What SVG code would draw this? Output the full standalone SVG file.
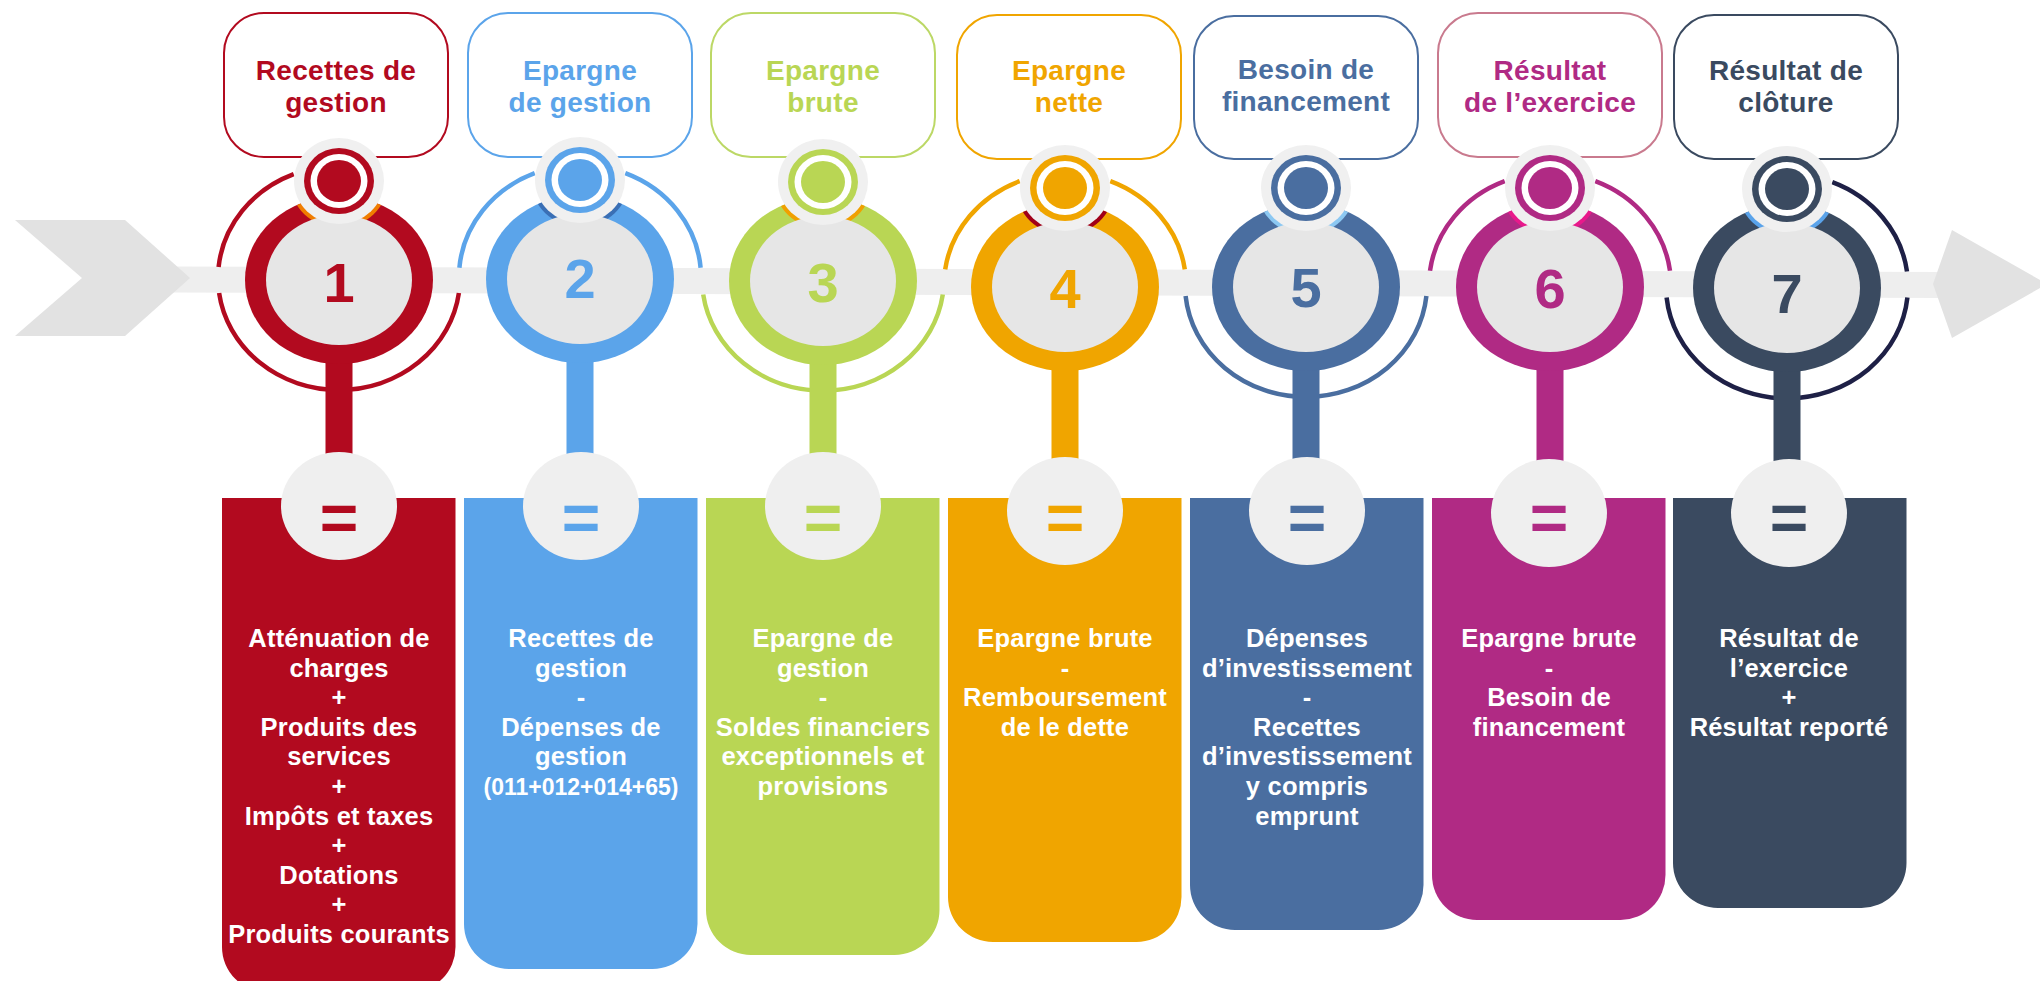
<svg xmlns="http://www.w3.org/2000/svg" width="2040" height="981" viewBox="0 0 2040 981">
<style>
  .f{font-family:"Liberation Sans",Arial,sans-serif;font-weight:700;text-anchor:middle}
  .top{font-size:28px;letter-spacing:0.3px}
  .body{font-size:25.5px;fill:#ffffff;letter-spacing:0.2px}
  .small{font-size:23px;letter-spacing:0}
  .num{font-size:56px}
  .eq{font-size:66px}
  .hdr{fill:#ffffff;stroke-width:2}
  .arc{fill:none;stroke-width:4.5}
  .disk{fill:#e6e6e6}
  .halo{fill:#f0f0f0}
  .eqc{fill:#efefef}
</style>
<defs>
  <clipPath id="ringClip"><ellipse cx="0" cy="0" rx="94" ry="84"/></clipPath>
</defs>

<g id="timeline">
  <polygon points="170,266.5 1945,272 1945,298 170,292.5" fill="#eeeeee"/>
  <polygon points="15,220 125,220 190,278 125,336 15,336 82,278" fill="#e2e2e2"/>
  <polygon points="1933,284 1952,230 2047,284 1952,338" fill="#e2e2e2"/>
</g>

<g id="step-1">
  <rect class="hdr" x="224" y="13" width="224" height="144" rx="40" stroke="#b20a1f"/>
  <text class="f top" fill="#b20a1f"><tspan x="336" y="80">Recettes de</tspan><tspan x="336" y="112">gestion</tspan></text>
  <path class="arc" stroke="#b20a1f" d="M293.7 174.2A121 112 0 0 0 218.6 267.1M219.1 293A121 112 0 0 0 458.9 293"/>
  <rect x="325.5" y="340" width="27" height="140" fill="#b20a1f"/>
  <g transform="translate(339,280)">
    <ellipse rx="94" ry="84" fill="#b20a1f"/>
    <ellipse cy="-99" rx="49" ry="47" fill="#f07d00" clip-path="url(#ringClip)"/>
    <ellipse class="disk" rx="73" ry="65"/>
    <ellipse class="halo" cy="-99" rx="45" ry="43"/>
    <ellipse cy="-99" rx="35" ry="33" fill="#b20a1f"/>
    <ellipse cy="-99" rx="28.5" ry="27" fill="#ffffff"/>
    <ellipse cy="-99" rx="22" ry="21" fill="#b20a1f"/>
    <text class="f num" x="0" y="22" fill="#b20a1f">1</text>
  </g>
  <path d="M222 498H455.5V947A45 45 0 0 1 410.5 992H267A45 45 0 0 1 222 947Z" fill="#b20a1f"/>
  <ellipse class="eqc" cx="339" cy="506" rx="58" ry="54"/>
  <text class="f eq" x="339" y="541" fill="#b20a1f">=</text>
  <text class="f body" y="647"><tspan x="339">Atténuation de</tspan><tspan x="339" dy="29.6">charges</tspan><tspan x="339" dy="29.6">+</tspan><tspan x="339" dy="29.6">Produits des</tspan><tspan x="339" dy="29.6">services</tspan><tspan x="339" dy="29.6">+</tspan><tspan x="339" dy="29.6">Impôts et taxes</tspan><tspan x="339" dy="29.6">+</tspan><tspan x="339" dy="29.6">Dotations</tspan><tspan x="339" dy="29.6">+</tspan><tspan x="339" dy="29.6">Produits courants</tspan></text>
</g>

<g id="step-2">
  <rect class="hdr" x="468" y="13" width="224" height="144" rx="40" stroke="#5ba4ea"/>
  <text class="f top" fill="#5ba4ea"><tspan x="580" y="80">Epargne</tspan><tspan x="580" y="112">de gestion</tspan></text>
  <path class="arc" stroke="#5ba4ea" d="M459.4 267.75A121 112 0 0 1 534.7 173.2M625.3 173.2A121 112 0 0 1 700.6 267.75"/>
  <rect x="566.5" y="339" width="27" height="141" fill="#5ba4ea"/>
  <g transform="translate(580,279)">
    <ellipse rx="94" ry="84" fill="#5ba4ea"/>
    <ellipse cy="-99" rx="49" ry="47" fill="#3a6fb5" clip-path="url(#ringClip)"/>
    <ellipse class="disk" rx="73" ry="65"/>
    <ellipse class="halo" cy="-99" rx="45" ry="43"/>
    <ellipse cy="-99" rx="35" ry="33" fill="#5ba4ea"/>
    <ellipse cy="-99" rx="28.5" ry="27" fill="#ffffff"/>
    <ellipse cy="-99" rx="22" ry="21" fill="#5ba4ea"/>
    <text class="f num" x="0" y="19" fill="#5ba4ea">2</text>
  </g>
  <path d="M464 498H697.5V924A45 45 0 0 1 652.5 969H509A45 45 0 0 1 464 924Z" fill="#5ba4ea"/>
  <ellipse class="eqc" cx="581" cy="506" rx="58" ry="54"/>
  <text class="f eq" x="581" y="541" fill="#5ba4ea">=</text>
  <text class="f body" y="647"><tspan x="581">Recettes de</tspan><tspan x="581" dy="29.6">gestion</tspan><tspan x="581" dy="29.6">-</tspan><tspan x="581" dy="29.6">Dépenses de</tspan><tspan x="581" dy="29.6">gestion</tspan><tspan x="581" dy="29.6" class="small">(011+012+014+65)</tspan></text>
</g>

<g id="step-3">
  <rect class="hdr" x="711" y="13" width="224" height="144" rx="40" stroke="#bcd866"/>
  <text class="f top" fill="#b9d654"><tspan x="823" y="80">Epargne</tspan><tspan x="823" y="112">brute</tspan></text>
  <path class="arc" stroke="#b9d654" d="M942.8 294.5A121 112 0 0 1 703.2 294.5"/>
  <rect x="809.5" y="341" width="27" height="139" fill="#b9d654"/>
  <g transform="translate(823,281)">
    <ellipse rx="94" ry="84" fill="#b9d654"/>
    <ellipse cy="-99" rx="49" ry="47" fill="#f0a000" clip-path="url(#ringClip)"/>
    <ellipse class="disk" rx="73" ry="65"/>
    <ellipse class="halo" cy="-99" rx="45" ry="43"/>
    <ellipse cy="-99" rx="35" ry="33" fill="#b9d654"/>
    <ellipse cy="-99" rx="28.5" ry="27" fill="#ffffff"/>
    <ellipse cy="-99" rx="22" ry="21" fill="#b9d654"/>
    <text class="f num" x="0" y="21" fill="#b9d654">3</text>
  </g>
  <path d="M706 498H939.5V910A45 45 0 0 1 894.5 955H751A45 45 0 0 1 706 910Z" fill="#b9d654"/>
  <ellipse class="eqc" cx="823" cy="506" rx="58" ry="54"/>
  <text class="f eq" x="823" y="541" fill="#b9d654">=</text>
  <text class="f body" y="647"><tspan x="823">Epargne de</tspan><tspan x="823" dy="29.6">gestion</tspan><tspan x="823" dy="29.6">-</tspan><tspan x="823" dy="29.6">Soldes financiers</tspan><tspan x="823" dy="29.6">exceptionnels et</tspan><tspan x="823" dy="29.6">provisions</tspan></text>
</g>

<g id="step-4">
  <rect class="hdr" x="957" y="15" width="224" height="144" rx="40" stroke="#f0a500"/>
  <text class="f top" fill="#f0a500"><tspan x="1069" y="80">Epargne</tspan><tspan x="1069" y="112">nette</tspan></text>
  <path class="arc" stroke="#f0a500" d="M945.2 269.3A121 112 0 0 1 1019.7 181.2M1110.3 181.2A121 112 0 0 1 1184.8 269.3"/>
  <rect x="1051.5" y="347" width="27" height="133" fill="#f0a500"/>
  <g transform="translate(1065,287)">
    <ellipse rx="94" ry="84" fill="#f0a500"/>
    <ellipse cy="-99" rx="49" ry="47" fill="#a00018" clip-path="url(#ringClip)"/>
    <ellipse class="disk" rx="73" ry="65"/>
    <ellipse class="halo" cy="-99" rx="45" ry="43"/>
    <ellipse cy="-99" rx="35" ry="33" fill="#f0a500"/>
    <ellipse cy="-99" rx="28.5" ry="27" fill="#ffffff"/>
    <ellipse cy="-99" rx="22" ry="21" fill="#f0a500"/>
    <text class="f num" x="0" y="21" fill="#f0a500">4</text>
  </g>
  <path d="M948 498H1181.5V897A45 45 0 0 1 1136.5 942H993A45 45 0 0 1 948 897Z" fill="#f0a500"/>
  <ellipse class="eqc" cx="1065" cy="511" rx="58" ry="54"/>
  <text class="f eq" x="1065" y="541" fill="#f0a500">=</text>
  <text class="f body" y="647"><tspan x="1065">Epargne brute</tspan><tspan x="1065" dy="29.6">-</tspan><tspan x="1065" dy="29.6">Remboursement</tspan><tspan x="1065" dy="29.6">de le dette</tspan></text>
</g>

<g id="step-5">
  <rect class="hdr" x="1194" y="16" width="224" height="143" rx="40" stroke="#4a6ea0"/>
  <text class="f top" fill="#4a6ea0"><tspan x="1306" y="79">Besoin de</tspan><tspan x="1306" y="111">financement</tspan></text>
  <path class="arc" stroke="#4a6ea0" d="M1426.4 296A121 112 0 0 1 1185.6 296"/>
  <rect x="1292.5" y="347" width="27" height="133" fill="#4a6ea0"/>
  <g transform="translate(1306,287)">
    <ellipse rx="94" ry="84" fill="#4a6ea0"/>
    <ellipse cy="-99" rx="49" ry="47" fill="#8cc8f2" clip-path="url(#ringClip)"/>
    <ellipse class="disk" rx="73" ry="65"/>
    <ellipse class="halo" cy="-99" rx="45" ry="43"/>
    <ellipse cy="-99" rx="35" ry="33" fill="#4a6ea0"/>
    <ellipse cy="-99" rx="28.5" ry="27" fill="#ffffff"/>
    <ellipse cy="-99" rx="22" ry="21" fill="#4a6ea0"/>
    <text class="f num" x="0" y="20" fill="#4a6ea0">5</text>
  </g>
  <path d="M1190 498H1423.5V885A45 45 0 0 1 1378.5 930H1235A45 45 0 0 1 1190 885Z" fill="#4a6ea0"/>
  <ellipse class="eqc" cx="1307" cy="511" rx="58" ry="54"/>
  <text class="f eq" x="1307" y="541" fill="#4a6ea0">=</text>
  <text class="f body" y="647"><tspan x="1307">Dépenses</tspan><tspan x="1307" dy="29.6">d’investissement</tspan><tspan x="1307" dy="29.6">-</tspan><tspan x="1307" dy="29.6">Recettes</tspan><tspan x="1307" dy="29.6">d’investissement</tspan><tspan x="1307" dy="29.6">y compris</tspan><tspan x="1307" dy="29.6">emprunt</tspan></text>
</g>

<g id="step-6">
  <rect class="hdr" x="1438" y="13" width="224" height="144" rx="40" stroke="#c97a8e"/>
  <text class="f top" fill="#b02a84"><tspan x="1550" y="80">Résultat</tspan><tspan x="1550" y="112">de l’exercice</tspan></text>
  <path class="arc" stroke="#b02a84" d="M1430 270.8A121 112 0 0 1 1504.7 181.2M1595.3 181.2A121 112 0 0 1 1670 270.8"/>
  <rect x="1536.5" y="347" width="27" height="133" fill="#b02a84"/>
  <g transform="translate(1550,287)">
    <ellipse rx="94" ry="84" fill="#b02a84"/>
    <ellipse cy="-99" rx="49" ry="47" fill="#e8198b" clip-path="url(#ringClip)"/>
    <ellipse class="disk" rx="73" ry="65"/>
    <ellipse class="halo" cy="-99" rx="45" ry="43"/>
    <ellipse cy="-99" rx="35" ry="33" fill="#b02a84"/>
    <ellipse cy="-99" rx="28.5" ry="27" fill="#ffffff"/>
    <ellipse cy="-99" rx="22" ry="21" fill="#b02a84"/>
    <text class="f num" x="0" y="21" fill="#b02a84">6</text>
  </g>
  <path d="M1432 498H1665.5V875A45 45 0 0 1 1620.5 920H1477A45 45 0 0 1 1432 875Z" fill="#b02a84"/>
  <ellipse class="eqc" cx="1549" cy="513" rx="58" ry="54"/>
  <text class="f eq" x="1549" y="541" fill="#b02a84">=</text>
  <text class="f body" y="647"><tspan x="1549">Epargne brute</tspan><tspan x="1549" dy="29.6">-</tspan><tspan x="1549" dy="29.6">Besoin de</tspan><tspan x="1549" dy="29.6">financement</tspan></text>
</g>

<g id="step-7">
  <rect class="hdr" x="1674" y="15" width="224" height="144" rx="40" stroke="#3a4a60"/>
  <text class="f top" fill="#3a4a60"><tspan x="1786" y="80">Résultat de</tspan><tspan x="1786" y="112">clôture</tspan></text>
  <path class="arc" stroke="#1e2046" d="M1832.3 182.2A121 112 0 0 1 1907 271.5M1907.4 297.5A121 112 0 0 1 1666.6 297.5"/>
  <rect x="1773.5" y="348" width="27" height="132" fill="#3a4a60"/>
  <g transform="translate(1787,288)">
    <ellipse rx="94" ry="84" fill="#3a4a60"/>
    <ellipse cy="-99" rx="49" ry="47" fill="#5aa3ea" clip-path="url(#ringClip)"/>
    <ellipse class="disk" rx="73" ry="65"/>
    <ellipse class="halo" cy="-99" rx="45" ry="43"/>
    <ellipse cy="-99" rx="35" ry="33" fill="#3a4a60"/>
    <ellipse cy="-99" rx="28.5" ry="27" fill="#ffffff"/>
    <ellipse cy="-99" rx="22" ry="21" fill="#3a4a60"/>
    <text class="f num" x="0" y="25" fill="#3a4a60">7</text>
  </g>
  <path d="M1673 498H1906.5V863A45 45 0 0 1 1861.5 908H1718A45 45 0 0 1 1673 863Z" fill="#3a4a60"/>
  <ellipse class="eqc" cx="1789" cy="513" rx="58" ry="54"/>
  <text class="f eq" x="1789" y="541" fill="#3a4a60">=</text>
  <text class="f body" y="647"><tspan x="1789">Résultat de</tspan><tspan x="1789" dy="29.6">l’exercice</tspan><tspan x="1789" dy="29.6">+</tspan><tspan x="1789" dy="29.6">Résultat reporté</tspan></text>
</g>
</svg>
